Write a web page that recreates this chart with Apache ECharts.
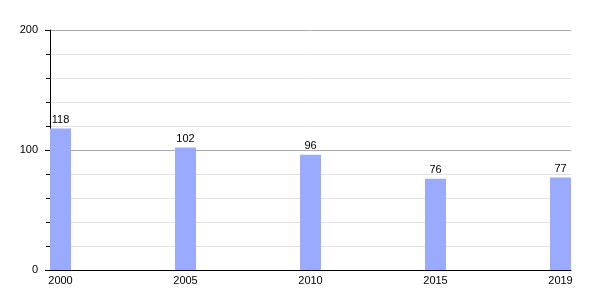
<!DOCTYPE html>
<html>
<head>
<meta charset="utf-8">
<script src="https://cdn.jsdelivr.net/npm/echarts@6/dist/echarts.min.js"></script>
<style>html,body{margin:0;padding:0;background:#fff;}#c{width:600px;height:300px;}</style>
</head>
<body>
<div id="c"></div>
<script>
var categories = ['2000', '2005', '2010', '2015', '2019'];
var values = [118, 102, 96, 76, 77];
var yTicks = [0, 100, 200];

var chart = echarts.init(document.getElementById('c'), null, {renderer: 'canvas'});
var font = 'Liberation Sans, Arial, sans-serif';
chart.setOption({
  animation: false,
  backgroundColor: '#ffffff',
  grid: {left: 50, right: 29, top: 30, bottom: 30},
  xAxis: {
    type: 'value',
    min: -0.084,
    max: categories.length - 1 + 0.084,
    axisLine: {show: true, onZero: false, lineStyle: {color: '#000', width: 1}},
    axisTick: {show: false},
    splitLine: {show: false},
    axisLabel: {
      customValues: categories.map(function (c, i) { return i; }),
      formatter: function (v) { return categories[Math.round(v)]; },
      color: '#000', fontFamily: font, fontSize: 11, margin: 5
    }
  },
  yAxis: {
    type: 'value',
    min: yTicks[0],
    max: yTicks[yTicks.length - 1],
    interval: 100,
    axisLine: {show: true, onZero: false, lineStyle: {color: '#000', width: 1}},
    axisTick: {show: true, length: 5, lineStyle: {color: '#000'}},
    minorTick: {show: true, splitNumber: 5, length: 4, lineStyle: {color: '#000'}},
    splitLine: {show: true, lineStyle: {color: '#aaaaaa', width: 1}},
    minorSplitLine: {show: true, lineStyle: {color: '#e2e2e2', width: 1}},
    axisLabel: {color: '#000', fontFamily: font, fontSize: 11, margin: 12}
  },
  series: [{
    type: 'bar',
    barWidth: 21,
    data: values.map(function (v, i) { return [i, v]; }),
    itemStyle: {color: '#99aaff'},
    label: {
      show: true, position: 'top', distance: 3,
      color: '#000', fontFamily: font, fontSize: 11,
      formatter: function (p) { return p.value[1]; }
    }
  }]
});
</script>
</body>
</html>
